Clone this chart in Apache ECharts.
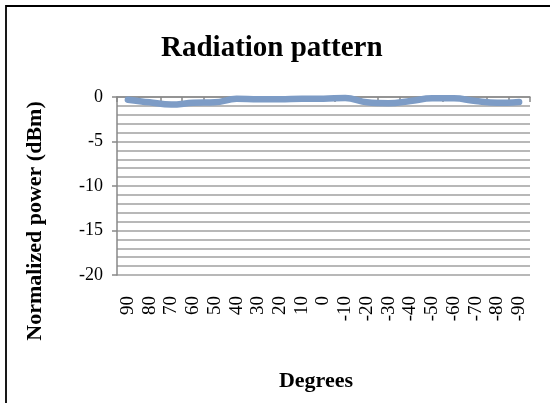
<!DOCTYPE html>
<html>
<head>
<meta charset="utf-8">
<script src="https://cdn.jsdelivr.net/npm/echarts@6/dist/echarts.min.js"></script>
<style>
  html, body { margin: 0; padding: 0; background: #fff; }
  #chart { width: 550px; height: 403px; }
</style>
</head>
<body>
<div id="chart"></div>
<script>
// Measurement angles (degrees) and normalized received power (dBm)
const degrees = ['90', '80', '70', '60', '50', '40', '30', '20', '10', '0',
  '-10', '-20', '-30', '-40', '-50', '-60', '-70', '-80', '-90'];
const power = [-0.3, -0.6, -0.85, -0.65, -0.6, -0.2, -0.25, -0.25, -0.2, -0.2,
  -0.1, -0.6, -0.7, -0.45, -0.15, -0.15, -0.45, -0.65, -0.55];
const yTicks = [0, -5, -10, -15, -20];

const serif = '"Liberation Serif", "DejaVu Serif", serif';
const chart = echarts.init(document.getElementById('chart'), null, { renderer: 'canvas' });

chart.setOption({
  animation: false,
  backgroundColor: '#fff',
  title: {
    text: 'Radiation pattern',
    left: 156,
    top: 29,
    textStyle: { fontFamily: serif, fontWeight: 'bold', fontSize: 29, color: '#000' }
  },
  graphic: [
    {
      // chart frame: left and top edges
      type: 'polyline',
      shape: { points: [[6, 420], [6, 6], [560, 6]] },
      style: { fill: null, stroke: '#000', lineWidth: 1.8 },
      silent: true
    },
    {
      type: 'text',
      x: 35, y: 221,
      rotation: Math.PI / 2,
      style: {
        text: 'Normalized power (dBm)',
        font: 'bold 22px ' + serif,
        fill: '#000',
        align: 'center',
        verticalAlign: 'middle'
      }
    },
    {
      type: 'text',
      x: 316, y: 381,
      style: {
        text: 'Degrees',
        font: 'bold 22px ' + serif,
        fill: '#000',
        align: 'center',
        verticalAlign: 'middle'
      }
    }
  ],
  grid: { left: 117, right: 20, top: 97, bottom: 128 },
  xAxis: {
    type: 'category',
    data: degrees,
    boundaryGap: true,
    axisLine: { lineStyle: { color: '#888', width: 1.5 } },
    axisTick: { show: true, alignWithLabel: false, length: 5, lineStyle: { color: '#888', width: 1.5 } },
    axisLabel: { rotate: 90, interval: 0, margin: 21, fontFamily: serif, fontSize: 19, color: '#000' },
    splitLine: { show: false }
  },
  yAxis: {
    type: 'value',
    min: Math.min(...yTicks),
    max: Math.max(...yTicks),
    interval: 5,
    axisLine: { show: true, lineStyle: { color: '#888', width: 1.5 } },
    axisTick: { show: true, inside: false, length: 5, lineStyle: { color: '#888', width: 1.5 } },
    axisLabel: { margin: 14, fontFamily: serif, fontSize: 18, color: '#000' },
    splitLine: { show: true, lineStyle: { color: '#b8b8b8', width: 2 } },
    minorTick: { show: false, splitNumber: 5 },
    minorSplitLine: { show: true, lineStyle: { color: '#b8b8b8', width: 2 } }
  },
  series: [{
    type: 'line',
    data: power,
    smooth: 0.4,
    symbol: 'none',
    lineStyle: { color: '#7d9cc6', width: 6.5, cap: 'round' }
  }]
});
</script>
</body>
</html>
